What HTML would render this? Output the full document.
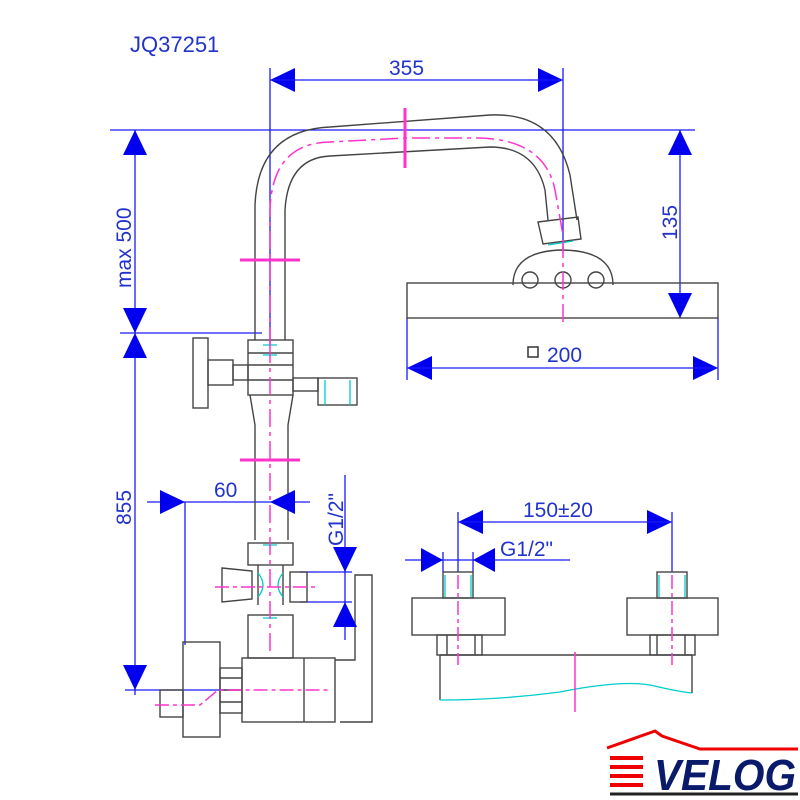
<!DOCTYPE html>
<html><head><style>html,body{margin:0;padding:0;background:#fff}svg{display:block}</style></head><body>
<svg width="800" height="800" viewBox="0 0 800 800" xmlns="http://www.w3.org/2000/svg" font-family="Liberation Sans, sans-serif">
<text x="130" y="52" font-size="22" fill="#2233cc">JQ37251</text>

<g stroke="#1a1aff" stroke-width="1.3" fill="none">
<line x1="270" y1="68" x2="270" y2="345"/>
<line x1="563" y1="68" x2="563" y2="250"/>
<line x1="110" y1="130" x2="695" y2="130"/>
<line x1="120" y1="333" x2="262" y2="333"/>
<line x1="135" y1="130" x2="135" y2="695"/>
<line x1="125" y1="690" x2="240" y2="690"/>
<line x1="680" y1="130" x2="680" y2="318"/>
<line x1="407" y1="318" x2="407" y2="380"/>
<line x1="718" y1="318" x2="718" y2="380"/>
<line x1="147" y1="502" x2="310" y2="502"/>
<line x1="185" y1="502" x2="185" y2="645"/>
<line x1="345" y1="475" x2="345" y2="640"/>
<line x1="300" y1="572" x2="352" y2="572"/>
<line x1="300" y1="602" x2="352" y2="602"/>
<line x1="458" y1="512" x2="458" y2="572"/>
<line x1="672" y1="512" x2="672" y2="572"/>
<line x1="405" y1="560" x2="570" y2="560"/>
<line x1="443" y1="552" x2="443" y2="572"/>
<line x1="473" y1="552" x2="473" y2="572"/>
</g>

<g stroke="#444" stroke-width="1.4" fill="none">
<path d="M255,340V205Q258,130 330,127L490,115Q555,112 570,175L577,220"/>
<path d="M285,340V210Q288,158 330,156L490,147Q535,147 545,190L548,220"/>
<path d="M538,222l40,-5l3,22l-38,5z"/>
<path d="M513,285Q513,252 560,250Q613,250 613,285"/>
<circle cx="530" cy="280" r="8"/><circle cx="563" cy="280" r="8"/><circle cx="596" cy="280" r="8"/>
<rect x="407" y="283" width="311" height="35"/>
<rect x="248" y="340" width="45" height="55"/>
<line x1="248" y1="353" x2="293" y2="353"/><line x1="248" y1="365" x2="293" y2="365"/><line x1="248" y1="380" x2="293" y2="380"/>
<rect x="193" y="338" width="15" height="70"/>
<rect x="208" y="360" width="25" height="25"/><rect x="233" y="365" width="15" height="15"/>
<rect x="293" y="378" width="25" height="13"/><rect x="318" y="378" width="39" height="27"/>
<path d="M250,395L255,425V540M293,395L288,425V540"/>
<rect x="248" y="543" width="45" height="22"/>
<path d="M258,565V605M283,565V605"/>
<path d="M222,568l30,3v28l-30,3z"/>
<rect x="290" y="572" width="17" height="30"/>
<rect x="248" y="615" width="45" height="43"/>
<rect x="242" y="658" width="93" height="64"/>
<line x1="304" y1="658" x2="304" y2="722"/>
<path d="M335,660H355V575H372V722H340"/>
<rect x="183" y="642" width="37" height="95"/>
<rect x="220" y="668" width="22" height="45"/>
<line x1="220" y1="678" x2="242" y2="678"/><line x1="220" y1="690" x2="242" y2="690"/><line x1="220" y1="702" x2="242" y2="702"/>
<rect x="160" y="690" width="23" height="27"/>
<rect x="443" y="572" width="30" height="26"/><rect x="412" y="598" width="93" height="37"/><rect x="437" y="635" width="45" height="20"/>
<rect x="657" y="572" width="30" height="26"/><rect x="627" y="598" width="91" height="37"/><rect x="650" y="635" width="45" height="20"/>
<path d="M440,655H692M440,655V700M692,655V693"/>
<path d="M447,635V655M475,635V655M657,635V655M685,635V655"/>
</g>
<g fill="#0000ee">
<path d="M270,80l25,-12v24z"/><path d="M563,80l-25,-12v24z"/>
<path d="M135,130l-12,25h24z"/><path d="M135,333l-12,-25h24z"/><path d="M135,333l-12,25h24z"/><path d="M135,690l-12,-25h24z"/>
<path d="M680,130l-12,25h24z"/><path d="M680,318l-12,-25h24z"/>
<path d="M407,368l25,-12v24z"/><path d="M718,368l-25,-12v24z"/>
<path d="M185,502l-25,-12v24z"/><path d="M270,502l25,-12v24z"/>
<path d="M345,572l-12,-25h24z"/><path d="M345,602l-12,25h24z"/>
<path d="M458,522l25,-12v24z"/><path d="M672,522l-25,-12v24z"/>
<path d="M443,560l-22,-12v24z"/><path d="M473,560l22,-12v24z"/>
</g>
<g stroke="#1a1aff" stroke-width="1.3">
<line x1="270" y1="80" x2="563" y2="80"/><line x1="407" y1="368" x2="718" y2="368"/><line x1="458" y1="522" x2="672" y2="522"/>
</g>
<g fill="#2233cc" font-size="21">
<text x="389" y="75">355</text>
<text x="547" y="362">200</text>
<text x="214" y="497">60</text>
<text x="523" y="517">150±20</text>
<text x="500" y="556">G1/2"</text>
<text transform="translate(131,288) rotate(-90)">max 500</text>
<text transform="translate(131,525) rotate(-90)">855</text>
<text transform="translate(677,240) rotate(-90)">135</text>
<text transform="translate(343,546) rotate(-90)">G1/2"</text>
</g>
<rect x="528" y="347" width="10" height="10" fill="none" stroke="#333" stroke-width="1.5"/>

<g stroke="#00cccc" stroke-width="1.3" fill="none">
<path d="M440,700Q500,700 560,692Q620,680 650,685Q680,692 692,693"/>
<path d="M263,345h14M263,355h14M263,545h14M263,618h14M548,245l25,-4"/>
<path d="M325,380v25M350,380v25M445,575v22M471,575v22M659,575v22M685,575v22"/>
<path d="M258,573q10,12 0,24M283,573q-10,12 0,24"/>
</g>
<g stroke="#ff33cc" stroke-width="1.5" fill="none">
<path d="M270,345V210Q272,143 330,142L405,138H480Q545,140 555,190L563,235" stroke-dasharray="18,5,4,5"/>
<path d="M270,345V655" stroke-dasharray="18,5,4,5"/>
<path d="M563,240V325" stroke-dasharray="18,5,4,5"/>
<line x1="405" y1="108" x2="405" y2="168" stroke-width="3"/>
<line x1="240" y1="260" x2="300" y2="260" stroke-width="3"/>
<line x1="240" y1="460" x2="300" y2="460" stroke-width="3"/>
<path d="M215,587H315" stroke-dasharray="14,4,4,4"/>
<path d="M155,705H200L218,690H330" stroke-dasharray="14,4,4,4"/>
<path d="M458,575V665M672,575V665" stroke-dasharray="14,4,4,4"/>
<line x1="575" y1="652" x2="575" y2="712"/>
</g>

<path d="M607,748L655,731L662,736L700,749H798" stroke="#e00" stroke-width="3" fill="none"/>
<g fill="#e00"><rect x="610" y="756" width="33" height="4"/><rect x="610" y="765" width="33" height="4"/><rect x="610" y="774" width="33" height="4"/><rect x="610" y="783" width="33" height="4"/></g>
<text x="654" y="790" font-size="44" font-weight="bold" font-style="italic" fill="#0a1a6a" textLength="142" lengthAdjust="spacingAndGlyphs">VELOG</text>
<line x1="610" y1="794" x2="798" y2="794" stroke="#222" stroke-width="3"/>
</svg>
</body></html>
